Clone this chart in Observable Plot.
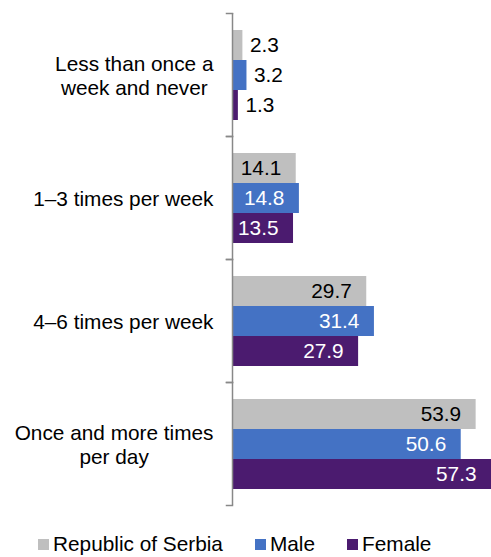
<!DOCTYPE html>
<html>
<head>
<meta charset="utf-8">
<script src="https://cdn.jsdelivr.net/npm/d3@7"></script>
<script src="https://cdn.jsdelivr.net/npm/@observablehq/plot@0.6"></script>
<style>
  html, body { margin: 0; padding: 0; background: #fff; }
  body { width: 491px; height: 557px; overflow: hidden; font-family: "Liberation Sans", Arial, sans-serif; }
  #legend { display: flex; align-items: center; height: 24px; padding-top: 12px; padding-left: 38px; gap: 32px; font-size: 20.8px; color: #000; }
  #legend .item { display: flex; align-items: center; gap: 4px; }
  #legend .sw { width: 11px; height: 11px; display: inline-block; }
</style>
</head>
<body>
<div id="chart"></div>
<div id="legend"></div>
<script>
const categories = ["Less than once a\nweek and never", "1–3 times per week", "4–6 times per week", "Once and more times\nper day"];
const series = ["Republic of Serbia", "Male", "Female"];
const serbia = [2.3, 14.1, 29.7, 53.9];
const male = [3.2, 14.8, 31.4, 50.6];
const female = [1.3, 13.5, 27.9, 57.3];
const colors = ["#BFBFBF", "#4472C4", "#4B1B6F"];

const seriesValues = [serbia, male, female];
const rows = [];
categories.forEach((c, i) => series.forEach((s, j) => rows.push({category: c, series: s, value: seriesValues[j][i]})));

const FONT = "Liberation Sans, Arial, sans-serif";
const FS = 20.8;
const ctx = document.createElement("canvas").getContext("2d");
ctx.font = `${FS}px ${FONT}`;
const blockWidth = (t) => Math.max(...t.split("\n").map(l => ctx.measureText(l).width));

const W = 491, H = 520, ML = 232, MR = 0, MT = 12, MB = 14;
const plotW = W - ML - MR;
const axisColor = "#888";

const labelMarks = categories.map(c => Plot.text([c], {
  fy: d => d, frameAnchor: "left", text: d => d,
  textAnchor: "middle", dx: -(19 + blockWidth(c) / 2),
  lineHeight: 1.18, fontSize: FS, fill: "#000"
}));

const chart = Plot.plot({
  width: W, height: H,
  marginLeft: ML, marginRight: MR, marginTop: MT, marginBottom: MB,
  style: {fontFamily: FONT, fontSize: FS + "px", background: "#fff"},
  x: {domain: [0, 57.3], axis: null},
  y: {domain: series, paddingInner: 0, paddingOuter: 0.5, axis: null},
  fy: {domain: categories, padding: 0, axis: null},
  color: {domain: series, range: colors},
  marks: [
    Plot.barX(rows, {fy: "category", y: "series", x: "value", fill: "series"}),
    Plot.text(rows, {fy: "category", y: "series", x: "value", filter: d => d.value < 5,
      text: d => d.value.toFixed(1), textAnchor: "start", dx: 7, fill: "#000", fontSize: FS}),
    Plot.text(rows, {fy: "category", y: "series", x: "value", filter: d => d.value >= 5 && d.series === series[0],
      text: d => d.value.toFixed(1), textAnchor: "end", dx: -15, fill: "#000", fontSize: FS}),
    Plot.text(rows, {fy: "category", y: "series", x: "value", filter: d => d.value >= 5 && d.series !== series[0],
      text: d => d.value.toFixed(1), textAnchor: "end", dx: -15, fill: "#fff", fontSize: FS}),
    Plot.ruleX([0], {stroke: axisColor, strokeWidth: 1.5}),
    Plot.frame({anchor: "top", stroke: axisColor, strokeWidth: 1.5, insetLeft: -6, insetRight: plotW}),
    Plot.frame({anchor: "bottom", stroke: axisColor, strokeWidth: 1.5, insetLeft: -6, insetRight: plotW}),
    ...labelMarks
  ]
});
document.getElementById("chart").appendChild(chart);

const legend = document.getElementById("legend");
series.forEach((s, j) => {
  const item = document.createElement("div");
  item.className = "item";
  const sw = document.createElement("span");
  sw.className = "sw";
  sw.style.background = colors[j];
  const lab = document.createElement("span");
  lab.textContent = s;
  item.appendChild(sw); item.appendChild(lab);
  legend.appendChild(item);
});
</script>
</body>
</html>
